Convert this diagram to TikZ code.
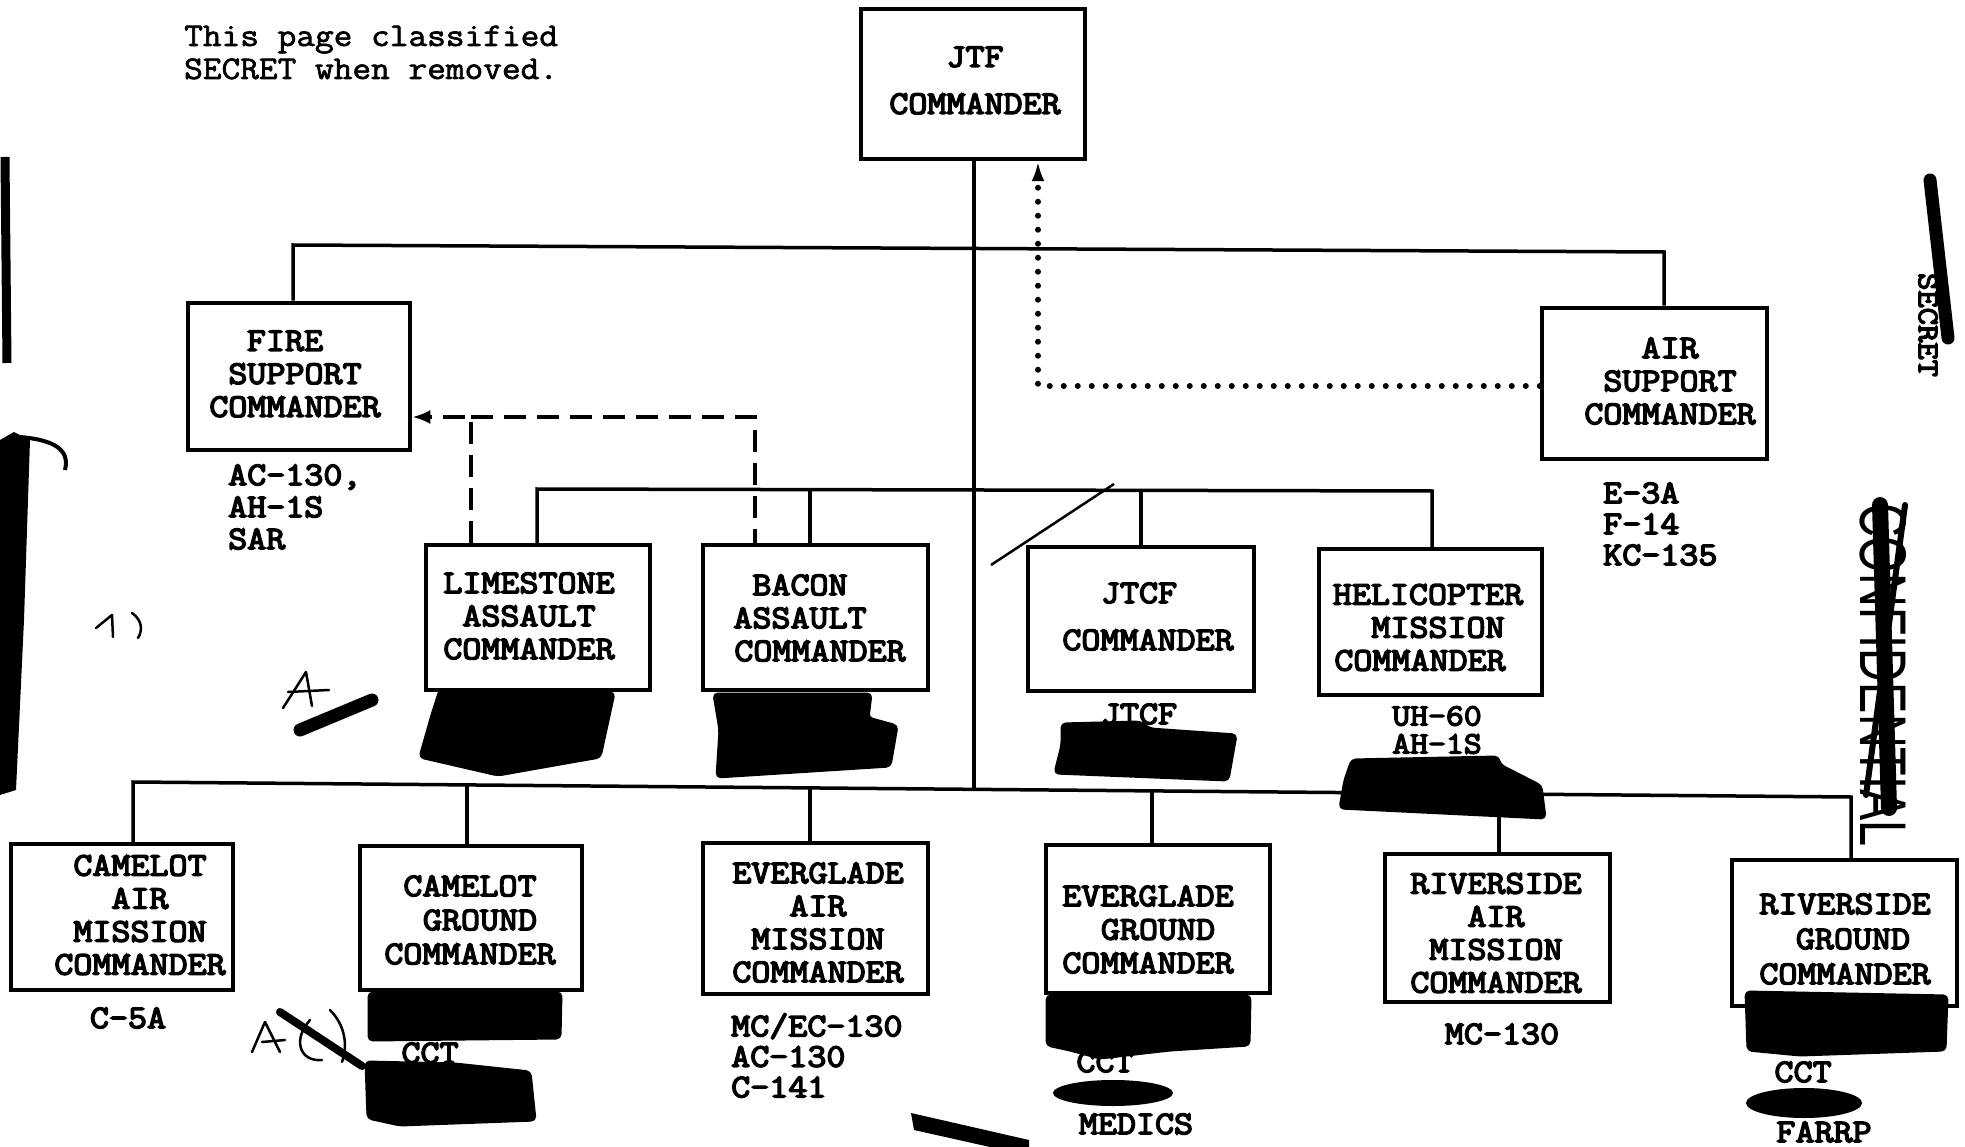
\documentclass[tikz,border=0pt]{standalone}
\usepackage{fontspec}
\usetikzlibrary{arrows.meta}
\newfontfamily\twfont{Latin Modern Mono}[FakeStretch=1.12,FakeBold=4.5]
\newfontfamily\notefont{Latin Modern Mono}[FakeStretch=1.1,FakeBold=2]
\newfontfamily\stampfont{Liberation Sans}[FakeStretch=0.71]
\newcommand\mv[2]{\kern#1\relax#2\kern-#1\relax}
\tikzset{
  box/.style={draw=black, line width=4.5pt, inner sep=0pt},
  lbl/.style={font=\twfont\fontsize{33}{33}\selectfont, align=center, inner sep=0pt},
  anno/.style={font=\twfont\fontsize{33}{32}\selectfont, align=left, anchor=west, inner sep=0pt},
  conn/.style={line width=3.5pt},
  dashc/.style={line width=3.5pt, dash pattern=on 22pt off 11pt},
  dotc/.style={line width=6pt, dash pattern=on 0pt off 14pt, line cap=round},
  redact/.style={fill=black, draw=black, line width=3pt, rounded corners=4pt, line join=round},
  hand/.style={line width=2.5pt, line cap=round, line join=round}
}
\begin{document}
\begin{tikzpicture}[x=1pt,y=-1pt]
\useasboundingbox (0,0) rectangle (1965,1147);
\fill[white] (0,0) rectangle (1965,1147);

% header note
\node[font=\notefont\fontsize{33}{33}\selectfont, align=left, anchor=west, inner sep=0pt] (note) at (184,52.5) {This page classified\\SECRET when removed.};

% boxes
\node[box, minimum width=224pt, minimum height=150pt] (jtf) at (973,84) {};
\node[box, minimum width=222pt, minimum height=147pt] (fire) at (299,376.5) {};
\node[box, minimum width=225pt, minimum height=151pt] (air) at (1654.5,383.5) {};
\node[box, minimum width=224pt, minimum height=145pt] (lime) at (538,617.5) {};
\node[box, minimum width=225pt, minimum height=145pt] (bacon) at (815.5,617.5) {};
\node[box, minimum width=226pt, minimum height=144pt] (jtcf) at (1141,619) {};
\node[box, minimum width=223pt, minimum height=146pt] (heli) at (1430.5,622) {};
\node[box, minimum width=222pt, minimum height=146pt] (camA) at (122,917) {};
\node[box, minimum width=222pt, minimum height=144pt] (camG) at (471,918) {};
\node[box, minimum width=225pt, minimum height=151pt] (evA) at (815.5,918.5) {};
\node[box, minimum width=224pt, minimum height=148pt] (evG) at (1158,919) {};
\node[box, minimum width=225pt, minimum height=148pt] (rivA) at (1497.5,928) {};
\node[box, minimum width=225pt, minimum height=146pt] (rivG) at (1844.5,933) {};

% box labels
\node[lbl] (jtfT) at (975,80.5) {JTF\\[14pt]COMMANDER};
\node[lbl] (fireT) at (295,374) {\mv{-10pt}{FIRE}\\SUPPORT\\COMMANDER};
\node[lbl] (airT) at (1670,381) {AIR\\SUPPORT\\COMMANDER};
\node[lbl] (limeT) at (529,616) {LIMESTONE\\ASSAULT\\COMMANDER};
\node[lbl] (baconT) at (815,618) {\mv{-15pt}{BACON}\\\mv{-15pt}{ASSAULT}\\\mv{5pt}{COMMANDER}};
\node[lbl] (jtcfT) at (1145,616.5) {\mv{-6pt}{JTCF}\\[14pt]\mv{3pt}{COMMANDER}};
\node[lbl] (heliT) at (1428,627.5) {HELICOPTER\\\mv{10pt}{MISSION}\\\mv{-8pt}{COMMANDER}};
\node[lbl] (camAT) at (140,915) {CAMELOT\\AIR\\MISSION\\COMMANDER};
\node[lbl, font=\twfont\fontsize{33}{34}\selectfont] (camGT) at (470,920) {CAMELOT\\\mv{10pt}{GROUND}\\COMMANDER};
\node[lbl] (evAT) at (818,922.5) {EVERGLADE\\AIR\\MISSION\\COMMANDER};
\node[lbl, font=\twfont\fontsize{33}{33.5}\selectfont] (evGT) at (1148,929.5) {EVERGLADE\\\mv{10pt}{GROUND}\\COMMANDER};
\node[lbl] (rivAT) at (1496,933) {RIVERSIDE\\AIR\\MISSION\\COMMANDER};
\node[lbl, font=\twfont\fontsize{33}{35}\selectfont] (rivGT) at (1845,939) {RIVERSIDE\\\mv{8pt}{GROUND}\\COMMANDER};

% annotations
\node[anno] (fireN) at (228,507) {AC-130,\\AH-1S\\SAR};
\node[anno, font=\twfont\fontsize{33}{31}\selectfont] (airN) at (1603,524) {E-3A\\F-14\\KC-135};
\node[lbl] (camAN) at (128,1018) {C-5A};
\node[anno, font=\twfont\fontsize{33}{30.5}\selectfont] (evAN) at (731,1055.5) {MC/EC-130\\AC-130\\C-141};
\node[lbl] (rivAN) at (1502,1034) {MC-130};
\node[lbl, font=\twfont\fontsize{31}{28}\selectfont] (heliN) at (1437,730) {UH-60\\AH-1S};
\node[lbl] (jtcfN) at (1139,714) {JTCF};
\node[lbl] (camGN) at (430,1053) {CCT};
\node[lbl] (evGN1) at (1105,1062) {CCT};
\node[lbl] (evGN2) at (1136,1124) {MEDICS};
\node[lbl] (rivGN1) at (1803,1072) {CCT};
\node[lbl] (rivGN2) at (1824,1132) {FARRP};

% top bus
\coordinate (tL) at (293,245);
\coordinate (tR) at (1664,252);
\draw[conn] (tL |- fire.north) -- (tL) -- (tR) -- (tR |- air.north);
% middle bus
\coordinate (mL) at (537,489);
\coordinate (mR) at (1432,491);
\coordinate (mB) at (810,489.6);
\coordinate (mJ) at (1141,490.3);
\draw[conn] (mL |- lime.north) -- (mL) -- (mR) -- (mR |- heli.north);
\draw[conn] (mB) -- (mB |- bacon.north);
\draw[conn] (mJ) -- (mJ |- jtcf.north);
% bottom bus
\coordinate (bL) at (133,782);
\coordinate (bR) at (1851,797);
\coordinate (bJ) at (974,789.3);
\coordinate (bCG) at (467,784.9);
\coordinate (bEA) at (810,787.9);
\coordinate (bEG) at (1152,790.9);
\coordinate (bRA) at (1499,793.9);
\draw[conn] (bL |- camA.north) -- (bL) -- (bR) -- (bR |- rivG.north);
\draw[conn] (jtf.south -| bJ) -- (bJ);
\draw[conn] (bCG) -- (bCG |- camG.north);
\draw[conn] (bEA) -- (bEA |- evA.north);
\draw[conn] (bEG) -- (bEG |- evG.north);
\draw[conn] (bRA) -- (bRA |- rivA.north);

% dashed link from assault commanders to fire support
\coordinate (dA) at (471,417);
\coordinate (dB) at (755,417);
\draw[dashc] (dA) -- (dB) -- (bacon.north -| dB);
\draw[dashc, -{Latex[length=18pt,width=14pt]}] (lime.north -| dA) -- (dA) -- (fire.east |- dA);

% dotted link from air support to JTF
\coordinate (dC) at (1038,386);
\draw[dotc, -{Latex[length=20pt,width=13pt]}] (air.west |- dC) -- (dC) -- (dC |- jtf.south);

% stray slash
\draw[line width=2.5pt] (991,565) -- (1114,484);

% redactions
\draw[redact] (440,690) -- (614,693) -- (600,757) -- (560,764) -- (498,775) -- (420,757) -- (432,715) -- cycle;
\draw[redact] (714,694) -- (871,694) -- (868,718) -- (897,726) -- (890,766) -- (717,777) -- (720,730) -- cycle;
\draw[redact] (1062,724) -- (1140,722) -- (1150,729) -- (1236,735) -- (1228,780) -- (1055,773) -- (1062,745) -- cycle;
\draw[redact] (1352,760) -- (1498,757) -- (1500,765) -- (1541,786) -- (1545,818) -- (1340,808) -- (1345,780) -- cycle;
\draw[redact] (369,993) -- (561,993) -- (560,1038) -- (369,1040) -- cycle;
\draw[redact] (366,1062) -- (455,1064) -- (530,1072) -- (535,1120) -- (400,1125) -- (368,1118) -- cycle;
\draw[redact] (1047,996) -- (1250,996) -- (1249,1045) -- (1170,1050) -- (1100,1058) -- (1070,1050) -- (1047,1045) -- cycle;
\fill (1113,1093) ellipse [x radius=60pt, y radius=13pt];
\draw[redact] (1746,992) -- (1947,996) -- (1945,1050) -- (1800,1055) -- (1748,1050) -- cycle;
\fill (1804,1103) ellipse [x radius=58pt, y radius=15pt];
\fill (911,1113) -- (1029,1140) -- (1029,1147) -- (990,1147) -- (914,1130) -- cycle;

% stamps on the right edge
\node[rotate=-90, font=\twfont\fontsize{30}{30}\selectfont, inner sep=0pt] (stS) at (1928,325) {SECRET};
\draw[line width=13pt, line cap=round] (1930,180) -- (1948,338);
\node[rotate=-90, font=\stampfont\fontsize{66}{66}\selectfont, inner sep=0pt] (stC) at (1883,675) {CONFIDENTIAL};
\draw[line width=16pt, line cap=round] (1880,505) -- (1889,808);
\draw[line width=6pt, line cap=round] (1866,795) -- (1905,505);

% left edge marks
\draw[line width=9pt] (5,157) -- (7,363);
\fill (0,440) -- (14,432) -- (30,440) -- (24,620) -- (16,790) -- (0,795) -- cycle;
\draw[line width=4pt] (20,437) .. controls (55,440) and (70,450) .. (65,470);

% handwritten marks
\draw[hand] (283,708) -- (306,672) -- (312,706);
\draw[hand] (288,692) -- (329,690);
\draw[line width=13pt, line cap=round] (300,730) -- (372,700);
\draw[hand] (252,1052) -- (265,1022) -- (280,1052);
\draw[hand] (262,1042) -- (285,1040);
\draw[hand] (310,1020) .. controls (292,1040) and (300,1062) .. (322,1060);
\draw[hand] (330,1010) .. controls (345,1025) and (348,1045) .. (342,1062);
\draw[line width=8pt, line cap=round] (280,1012) -- (362,1066);
\draw[hand] (96,628) -- (112,615) -- (113,637);
\draw[hand] (132,613) .. controls (142,620) and (143,630) .. (138,638);
\end{tikzpicture}
\end{document}
